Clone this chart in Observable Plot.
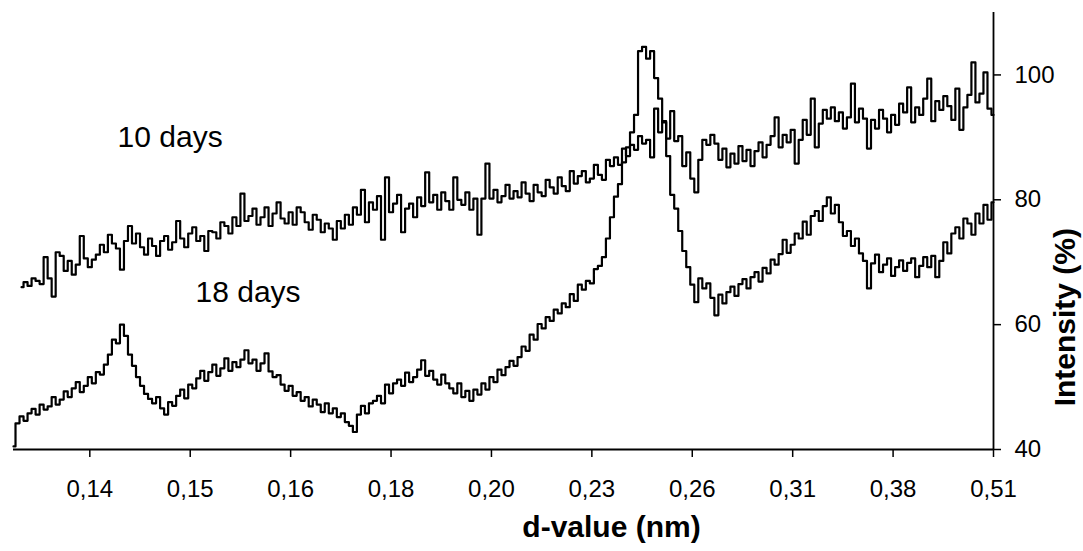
<!DOCTYPE html>
<html>
<head>
<meta charset="utf-8">
<script src="https://cdn.jsdelivr.net/npm/d3@7"></script>
<script src="https://cdn.jsdelivr.net/npm/@observablehq/plot@0.6"></script>
<style>
  html, body { margin: 0; padding: 0; background: #ffffff; }
  #chart { width: 1083px; height: 551px; }
</style>
</head>
<body>
<div id="chart"></div>
<script>
// x: measurement channel (scan position); tick channels carry d-value labels
const tickChannels = [19, 44, 69, 94, 119, 144, 169, 194, 219, 244];
const tickLabels = ["0,14", "0,15", "0,16", "0,18", "0,20", "0,23", "0,26", "0,31", "0,38", "0,51"];
const yTicks = [40, 60, 80, 100];

// 10 days: channels 2..244
const start10 = 2;
const days10 = [
  66.0, 66.8, 66.2, 67.4, 67.0, 66.5, 70.8, 67.4,
  64.5, 71.6, 71.0, 68.6, 70.2, 68.0, 69.6, 74.2, 70.6, 69.2,
  70.4, 71.2, 72.8, 71.6, 74.4, 73.0, 72.2, 68.8, 73.4, 75.8,
  73.0, 74.6, 72.4, 71.2, 73.8, 72.6, 71.0, 73.4, 74.2, 72.0,
  73.2, 76.6, 73.8, 72.4, 74.6, 75.6, 73.4, 74.2, 71.8, 75.0,
  74.8, 73.8, 76.4, 75.8, 74.6, 77.2, 75.8, 81.0, 76.6, 77.4,
  78.6, 76.0, 77.2, 78.8, 75.8, 77.8, 79.6, 77.0, 76.2, 78.0,
  76.0, 78.8, 78.0, 76.4, 75.2, 77.6, 76.8, 74.8, 76.2, 75.4,
  73.6, 76.6, 75.4, 77.6, 76.0, 78.8, 77.6, 81.6, 76.4, 79.6,
  78.4, 80.6, 73.6, 83.6, 78.0, 79.4, 80.8, 74.8, 78.6, 79.4,
  77.2, 80.4, 79.0, 84.4, 79.6, 80.8, 78.4, 81.2, 79.8, 78.4,
  83.6, 80.0, 79.2, 81.2, 78.4, 80.2, 74.4, 80.2, 85.8, 80.2,
  81.6, 79.6, 80.6, 82.4, 80.2, 81.4, 80.4, 82.8, 81.0, 79.8,
  82.4, 81.2, 80.6, 83.2, 82.0, 81.0, 83.6, 82.2, 81.4, 84.6,
  82.6, 83.8, 84.6, 82.8, 83.4, 85.6, 84.0, 83.2, 86.4, 85.4,
  86.8, 85.6, 88.2, 87.0, 88.8, 88.0, 90.2, 89.0, 89.6, 86.8,
  94.6, 90.8, 92.6, 89.8, 94.2, 89.4, 90.2, 85.4, 87.6, 83.4,
  81.2, 86.4, 89.6, 88.8, 90.4, 89.0, 86.4, 88.2, 85.2, 87.4,
  85.8, 88.6, 86.2, 88.0, 85.4, 87.8, 89.2, 86.8, 88.8, 90.2,
  93.2, 88.4, 90.4, 89.2, 91.2, 85.8, 89.6, 92.8, 90.4, 96.2,
  88.4, 92.2, 94.4, 93.0, 94.8, 92.6, 94.0, 91.4, 93.2, 98.6,
  92.4, 94.6, 93.0, 88.2, 92.8, 91.4, 94.4, 93.0, 90.8, 93.6,
  92.0, 95.4, 94.0, 98.0, 92.4, 94.8, 93.6, 96.2, 99.4, 92.6,
  95.8, 94.4, 96.6, 95.0, 92.8, 97.8, 91.2, 94.8, 96.8, 102.0,
  95.6, 97.0, 100.4, 94.6, 93.6
];

// 18 days: channels 0..244
const start18 = 0;
const days18 = [
  40.5, 44.2, 45.3, 44.6, 45.8, 46.5, 45.6, 47.2, 46.4, 46.9,
  48.4, 47.2, 48.0, 49.3, 48.4, 49.8, 50.8, 49.2, 50.2, 51.6,
  50.6, 52.4, 52.0, 53.6, 55.2, 57.6, 57.0, 60.0, 58.2, 55.2,
  53.4, 51.6, 50.2, 48.9, 48.1, 47.4, 48.4, 46.6, 45.6, 47.6,
  47.0, 48.6, 49.6, 48.2, 50.4, 49.8, 51.4, 52.6, 51.0, 52.4,
  53.6, 51.8, 53.0, 54.6, 52.6, 54.0, 53.2, 54.4, 55.9, 53.8,
  54.4, 52.6, 53.8, 55.4, 52.5, 51.6, 51.9, 50.4, 49.4, 50.2,
  48.6, 49.2, 47.8, 48.4, 46.9, 48.0, 47.2, 46.0, 47.4, 45.8,
  46.6, 45.2, 45.8, 44.4, 43.8, 42.8, 45.6, 47.0, 45.8, 47.4,
  47.8, 48.6, 47.4, 50.4, 49.0, 50.6, 51.2, 50.2, 52.3, 50.8,
  51.6, 52.8, 54.3, 51.8, 52.6, 51.2, 50.4, 52.0, 50.6, 49.8,
  49.0, 50.6, 48.4, 49.4, 47.8, 49.6, 48.8, 50.6, 49.6, 51.6,
  50.8, 52.8, 51.9, 53.2, 54.2, 53.4, 54.8, 56.5, 55.8, 58.4,
  57.6, 60.1, 59.4, 61.2, 60.6, 62.4, 61.8, 63.4, 62.8, 64.9,
  63.8, 66.4, 65.6, 67.0, 66.6, 68.9, 69.4, 70.8, 73.8, 77.2,
  80.5, 82.5, 86.0, 88.4, 90.8, 93.6, 103.8, 104.5, 102.6, 103.8,
  99.5, 96.2, 92.4, 87.0, 80.8, 78.6, 75.0, 71.8, 69.2, 66.4,
  63.6, 67.4, 65.8, 66.6, 64.3, 61.5, 64.8, 63.4, 65.2, 66.1,
  64.6, 66.5, 67.3, 65.8, 67.6, 68.4, 66.9, 69.1, 68.2, 70.4,
  69.6, 71.3, 73.6, 71.5, 72.8, 74.6, 73.8, 76.5, 74.4, 77.4,
  78.2, 76.6, 79.0, 80.4, 77.8, 79.2, 76.4, 74.2, 75.0, 72.6,
  73.8, 71.4, 70.2, 65.8, 69.8, 71.2, 68.4, 69.6, 70.6, 67.8,
  69.2, 70.3, 68.6, 69.9, 70.6, 67.6, 69.4, 70.8, 69.2, 71.0,
  67.6, 70.2, 73.2, 71.4, 74.6, 75.6, 73.8, 77.0, 76.2, 74.4,
  77.8, 76.2, 79.2, 76.8, 79.6
];

const seriesNames = ["10 days", "18 days"];
const labelChannels = [39, 58.4];
const labelValues = [90.0, 65.2];

const rows10 = days10.map((v, i) => ({channel: start10 + i, intensity: v}));
const rows18 = days18.map((v, i) => ({channel: start18 + i, intensity: v}));
const seriesLabels = seriesNames.map((name, i) => ({name, channel: labelChannels[i], intensity: labelValues[i]}));
const labelOf = new Map(tickChannels.map((c, i) => [c, tickLabels[i]]));

const chart = Plot.plot({
  width: 1083,
  height: 551,
  marginLeft: 13,
  marginRight: 90,
  marginTop: 12,
  marginBottom: 102,
  style: {fontFamily: "'Liberation Sans', Arial, sans-serif", fontSize: "24px", background: "#ffffff", color: "#000000"},
  x: {domain: [0, 244]},
  y: {domain: [40, 110]},
  marks: [
    Plot.axisX({ticks: tickChannels, tickFormat: d => labelOf.get(d), tickSize: 8, tickPadding: 22, fontSize: 24, label: null, strokeWidth: 1.5}),
    Plot.axisY({anchor: "right", ticks: yTicks, tickSize: 7, tickPadding: 14, fontSize: 24, label: null, strokeWidth: 1.5}),
    Plot.ruleY([40], {stroke: "#000", strokeWidth: 1.8}),
    Plot.ruleX([244], {stroke: "#000", strokeWidth: 1.8}),
    Plot.line(rows10, {x: "channel", y: "intensity", curve: "step", stroke: "#000", strokeWidth: 2.2}),
    Plot.line(rows18, {x: "channel", y: "intensity", curve: "step", stroke: "#000", strokeWidth: 2.2}),
    Plot.text(seriesLabels, {x: "channel", y: "intensity", text: "name", fontSize: 30, fill: "#000"}),
    Plot.text(["d-value (nm)"], {frameAnchor: "bottom", dx: 108, dy: 87, fontSize: 30, fontWeight: "bold", fill: "#000"}),
    Plot.text(["Intensity (%)"], {frameAnchor: "right", dx: 72, dy: -3, rotate: -90, fontSize: 30, fontWeight: "bold", fill: "#000"})
  ]
});
document.getElementById("chart").appendChild(chart);
</script>
</body>
</html>
